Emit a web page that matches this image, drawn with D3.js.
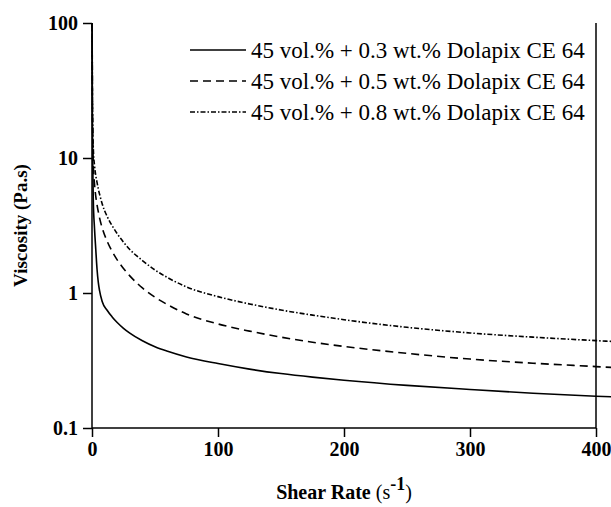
<!DOCTYPE html>
<html>
<head>
<meta charset="utf-8">
<script src="https://cdn.jsdelivr.net/npm/d3@7"></script>
<style>
  body { margin: 0; background: #fff; }
  svg { display: block; }
  .axis text { font-family: "Liberation Serif", serif; font-weight: bold; font-size: 20px; fill: #000; }
  .axis path, .axis line { stroke: #000; stroke-width: 1.5px; }
</style>
</head>
<body>
<script>
// shear rate (1/s) and viscosity (Pa.s)
var shearRate = [0.1, 0.3, 0.6, 1, 2, 3, 4, 5, 6, 8, 12, 16, 20, 25, 30, 40, 50, 60, 75, 100, 125, 150, 175, 200, 250, 300, 350, 400, 415];
var visc03 = [100, 20, 9, 5, 3.0, 2.1, 1.5, 1.2, 1.04, 0.87, 0.745, 0.665, 0.605, 0.548, 0.505, 0.443, 0.4, 0.37, 0.336, 0.3, 0.273, 0.253, 0.238, 0.226, 0.207, 0.193, 0.181, 0.172, 0.17];
var visc05 = [100, 30, 14, 9, 6.4, 5.2, 4.5, 4.0, 3.6, 3.05, 2.42, 2.03, 1.76, 1.52, 1.34, 1.09, 0.93, 0.82, 0.70, 0.59, 0.522, 0.471, 0.432, 0.402, 0.357, 0.324, 0.302, 0.285, 0.28];
var visc08 = [100, 32, 17, 12, 8.8, 7.4, 6.6, 5.9, 5.4, 4.6, 3.7, 3.15, 2.75, 2.38, 2.1, 1.74, 1.48, 1.3, 1.11, 0.94, 0.83, 0.748, 0.686, 0.634, 0.557, 0.506, 0.471, 0.444, 0.437];
var seriesNames = ["45 vol.% + 0.3 wt.% Dolapix CE 64", "45 vol.% + 0.5 wt.% Dolapix CE 64", "45 vol.% + 0.8 wt.% Dolapix CE 64"];
var xTicks = [0, 100, 200, 300, 400];
var yTicks = [0.1, 1, 10, 100];

var width = 611, height = 507;
var margin = {left: 92, right: 15, top: 23, bottom: 79};
var h = height - margin.top - margin.bottom;

var x = d3.scaleLinear().domain([0, 400]).range([0, 504]);
var y = d3.scaleLog().domain([0.1, 100]).range([h, 0]);

var svg = d3.select("body").append("svg").attr("width", width).attr("height", height);
var g = svg.append("g").attr("transform", "translate(" + margin.left + "," + margin.top + ")");

// lines
var series = [visc03, visc05, visc08];
var dashes = [null, "8,5", "5,2,1.5,2"];
var line = d3.line()
    .x(function(d, i) { return x(shearRate[i]); })
    .y(function(d) { return y(d); })
    .curve(d3.curveMonotoneX);

series.forEach(function(s, k) {
  g.append("path")
    .attr("d", line(s))
    .attr("fill", "none")
    .attr("stroke", "#000")
    .attr("stroke-width", 1.6)
    .attr("stroke-dasharray", dashes[k]);
});

// axes
var yAxis = d3.axisLeft(y).tickValues(yTicks).tickSize(9).tickPadding(5)
    .tickFormat(function(d) { return d < 1 ? "0.1" : d3.format("d")(d); });
var xAxis = d3.axisBottom(x).tickValues(xTicks).tickSize(9).tickPadding(5).tickFormat(d3.format("d"));

g.append("g").attr("class", "axis y").call(yAxis).select(".domain").attr("d", "M0," + h + "V0");
g.append("g").attr("class", "axis x").attr("transform", "translate(0," + h + ")").call(xAxis)
  .select(".domain").attr("d", "M0,0H" + x(400));

// right frame line
g.append("line").attr("x1", x(400)).attr("x2", x(400)).attr("y1", 0).attr("y2", h)
  .attr("stroke", "#000").attr("stroke-width", 1.5);

// legend
var legend = g.append("g").attr("transform", "translate(98,27)");
seriesNames.forEach(function(name, k) {
  var row = legend.append("g").attr("transform", "translate(0," + (k * 31) + ")");
  row.append("line").attr("x1", 0).attr("x2", 56).attr("y1", 0).attr("y2", 0)
    .attr("stroke", "#000").attr("stroke-width", 1.5).attr("stroke-dasharray", dashes[k]);
  row.append("text").attr("x", 61).attr("y", 8)
    .style("font-family", "Liberation Serif, serif").style("font-size", "23px")
    .text(name);
});

// axis titles
var xt = svg.append("text").attr("x", margin.left + x(200)).attr("y", 499)
  .attr("text-anchor", "middle")
  .style("font-family", "Liberation Serif, serif").style("font-weight", "bold").style("font-size", "20px");
xt.append("tspan").text("Shear Rate ");
xt.append("tspan").style("font-weight", "normal").text("(s");
xt.append("tspan").attr("dy", -9).style("font-size", "18px").text("-1");
xt.append("tspan").attr("dy", 9).style("font-weight", "normal").text(")");

svg.append("text")
  .attr("transform", "translate(27," + (margin.top + h / 2) + ") rotate(-90)")
  .attr("text-anchor", "middle")
  .style("font-family", "Liberation Serif, serif").style("font-weight", "bold").style("font-size", "19px")
  .text("Viscosity (Pa.s)");
</script>
</body>
</html>
